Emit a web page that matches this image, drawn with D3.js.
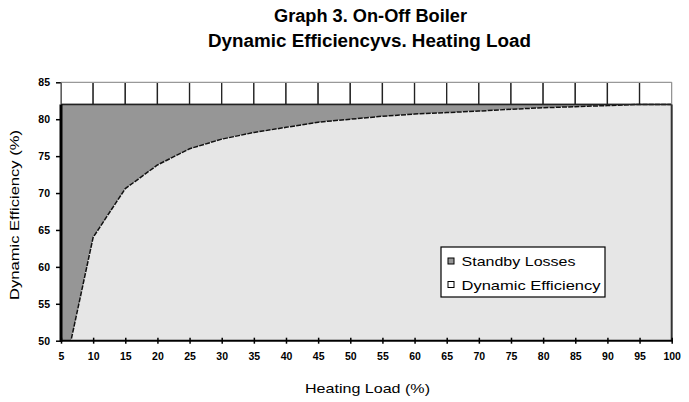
<!DOCTYPE html>
<html><head><meta charset="utf-8">
<script src="https://cdn.jsdelivr.net/npm/d3@7/dist/d3.min.js"></script>
<style>body{margin:0;background:#fff}svg{display:block}</style>
</head><body>
<svg id="chart" width="689" height="402"></svg>
<script>
const loads = [5,10,15,20,25,30,35,40,45,50,55,60,65,70,75,80,85,90,95,100];
const dynamicEfficiency = [43.7,64,70.6,73.8,76.0,77.3,78.2,78.9,79.6,80.0,80.4,80.7,80.9,81.1,81.35,81.55,81.7,81.85,82,82];
const ratedEfficiency = 82;
const standbyLosses = dynamicEfficiency.map(v => ratedEfficiency - v);
const yTicks = [50,55,60,65,70,75,80,85];
const xTicks = loads;
const titleLines = ["Graph 3. On-Off Boiler","Dynamic Efficiencyvs. Heating Load"];
const legendItems = ["Standby Losses","Dynamic Efficiency"];

const svg = d3.select("#chart");
const x = d3.scaleLinear().domain([5,100]).range([61,671.7]);
const y = d3.scaleLinear().domain([50,85]).range([340.7,82.3]);

const data = loads.map((l,i)=>({load:l, eff:dynamicEfficiency[i], standby:standbyLosses[i]}));
const stack = d3.stack().keys(["eff","standby"])(data);

svg.append("clipPath").attr("id","clip").append("rect")
  .attr("x",x(5)).attr("y",y(85)).attr("width",x(100)-x(5)).attr("height",y(50)-y(85));

const g = svg.append("g").attr("clip-path","url(#clip)");

// top band cells (between rated efficiency and 85)
g.selectAll("rect.cell").data(loads.slice(0,-1)).join("rect").attr("class","cell")
  .attr("x",d=>x(d)).attr("y",y(85)).attr("width",(d,i)=>x(loads[i+1])-x(d)).attr("height",y(ratedEfficiency)-y(85))
  .attr("fill","#fff").attr("stroke","#222").attr("stroke-width",1.3);

const area = d3.area().x(d=>x(d.data.load)).y0(d=>y(d[0])).y1(d=>y(d[1]));
// standby losses
g.append("path").datum(stack[1]).attr("d",area).attr("fill","#969696");
// dynamic efficiency (plot floor)
g.append("path").datum(stack[0]).attr("d",d3.area().x(d=>x(d.data.load)).y0(y(50)).y1(d=>y(d[1]))).attr("fill","#e6e6e6");
// curve
g.append("path").datum(data).attr("d",d3.line().x(d=>x(d.load)).y(d=>y(d.eff)))
  .attr("fill","none").attr("stroke","#111").attr("stroke-width",1.5).attr("stroke-dasharray","5,1.2");
// line at rated efficiency
g.append("line").attr("x1",x(5)).attr("x2",x(100)).attr("y1",y(ratedEfficiency)).attr("y2",y(ratedEfficiency))
  .attr("stroke","#222").attr("stroke-width",1.5);

// borders of band
svg.append("line").attr("x1",x(5)).attr("x2",x(100)).attr("y1",y(85)).attr("y2",y(85)).attr("stroke","#999").attr("stroke-width",1.2);
svg.append("line").attr("x1",x(100)).attr("x2",x(100)).attr("y1",y(85)).attr("y2",y(ratedEfficiency)).attr("stroke","#999").attr("stroke-width",1.2);
svg.append("line").attr("x1",x(100)).attr("x2",x(100)).attr("y1",y(ratedEfficiency)).attr("y2",y(50)).attr("stroke","#333").attr("stroke-width",2);

// axes
const tickFont = "bold 10.5px 'Liberation Sans Narrow','Liberation Sans',Arial,sans-serif";
const yAxis = svg.append("g").attr("transform",`translate(${x(5)},0)`)
  .call(d3.axisLeft(y).tickValues(yTicks).tickSize(5).tickPadding(6).tickFormat(d3.format("d")));
yAxis.select(".domain").remove();
yAxis.selectAll("line").attr("stroke","#000").attr("stroke-width",1.5);
yAxis.selectAll("text").style("font",tickFont).attr("fill","#000");
svg.append("line").attr("x1",x(5)).attr("x2",x(5)).attr("y1",y(85)).attr("y2",y(ratedEfficiency)).attr("stroke","#555").attr("stroke-width",1.2);
svg.append("line").attr("x1",x(5)).attr("x2",x(5)).attr("y1",y(ratedEfficiency)).attr("y2",y(50)+1).attr("stroke","#000").attr("stroke-width",3);

const xAxis = svg.append("g").attr("transform",`translate(0,${y(50)})`)
  .call(d3.axisBottom(x).tickValues(xTicks).tickSize(3).tickPadding(9).tickFormat(d3.format("d")));
xAxis.select(".domain").remove();
xAxis.selectAll(".tick line").attr("y1",-3).attr("stroke","#000").attr("stroke-width",1.5);
xAxis.selectAll("text").style("font",tickFont).attr("fill","#000");
svg.append("line").attr("x1",x(5)-1).attr("x2",x(100)+1).attr("y1",y(50)).attr("y2",y(50)).attr("stroke","#000").attr("stroke-width",2);

// titles
const titleFont = "bold 18px 'Liberation Sans Narrow','Arial Narrow','Liberation Sans',Arial,sans-serif";
svg.append("text").attr("x",274).attr("y",22).attr("textLength",193).attr("lengthAdjust","spacingAndGlyphs")
  .style("font",titleFont).text(titleLines[0]);
svg.append("text").attr("x",208).attr("y",46.5).attr("textLength",323).attr("lengthAdjust","spacingAndGlyphs")
  .style("font",titleFont).text(titleLines[1]);

const labFont = "13px 'Liberation Sans',Arial,sans-serif";
svg.append("text").attr("x",305).attr("y",393).attr("textLength",125).attr("lengthAdjust","spacingAndGlyphs")
  .style("font",labFont).text("Heating Load (%)");
svg.append("text").attr("transform","translate(19,300) rotate(-90)").attr("textLength",170).attr("lengthAdjust","spacingAndGlyphs")
  .style("font",labFont).text("Dynamic Efficiency (%)");

// legend
const lg = svg.append("g");
lg.append("rect").attr("x",441).attr("y",247).attr("width",164).attr("height",50).attr("fill","#fff").attr("stroke","#000").attr("stroke-width",1.2);
const swatchFill = ["#969696","#fff"];
const legendLens = [114,139];
legendItems.forEach((t,i)=>{
  lg.append("rect").attr("x",448).attr("y",258+i*23.5).attr("width",6).attr("height",6).attr("fill",swatchFill[i]).attr("stroke","#000").attr("stroke-width",1);
  lg.append("text").attr("x",461.5).attr("y",266+i*23.5).attr("textLength",legendLens[i]).attr("lengthAdjust","spacingAndGlyphs")
    .style("font","13.5px 'Liberation Sans',Arial,sans-serif").text(t);
});
</script>
</body></html>
